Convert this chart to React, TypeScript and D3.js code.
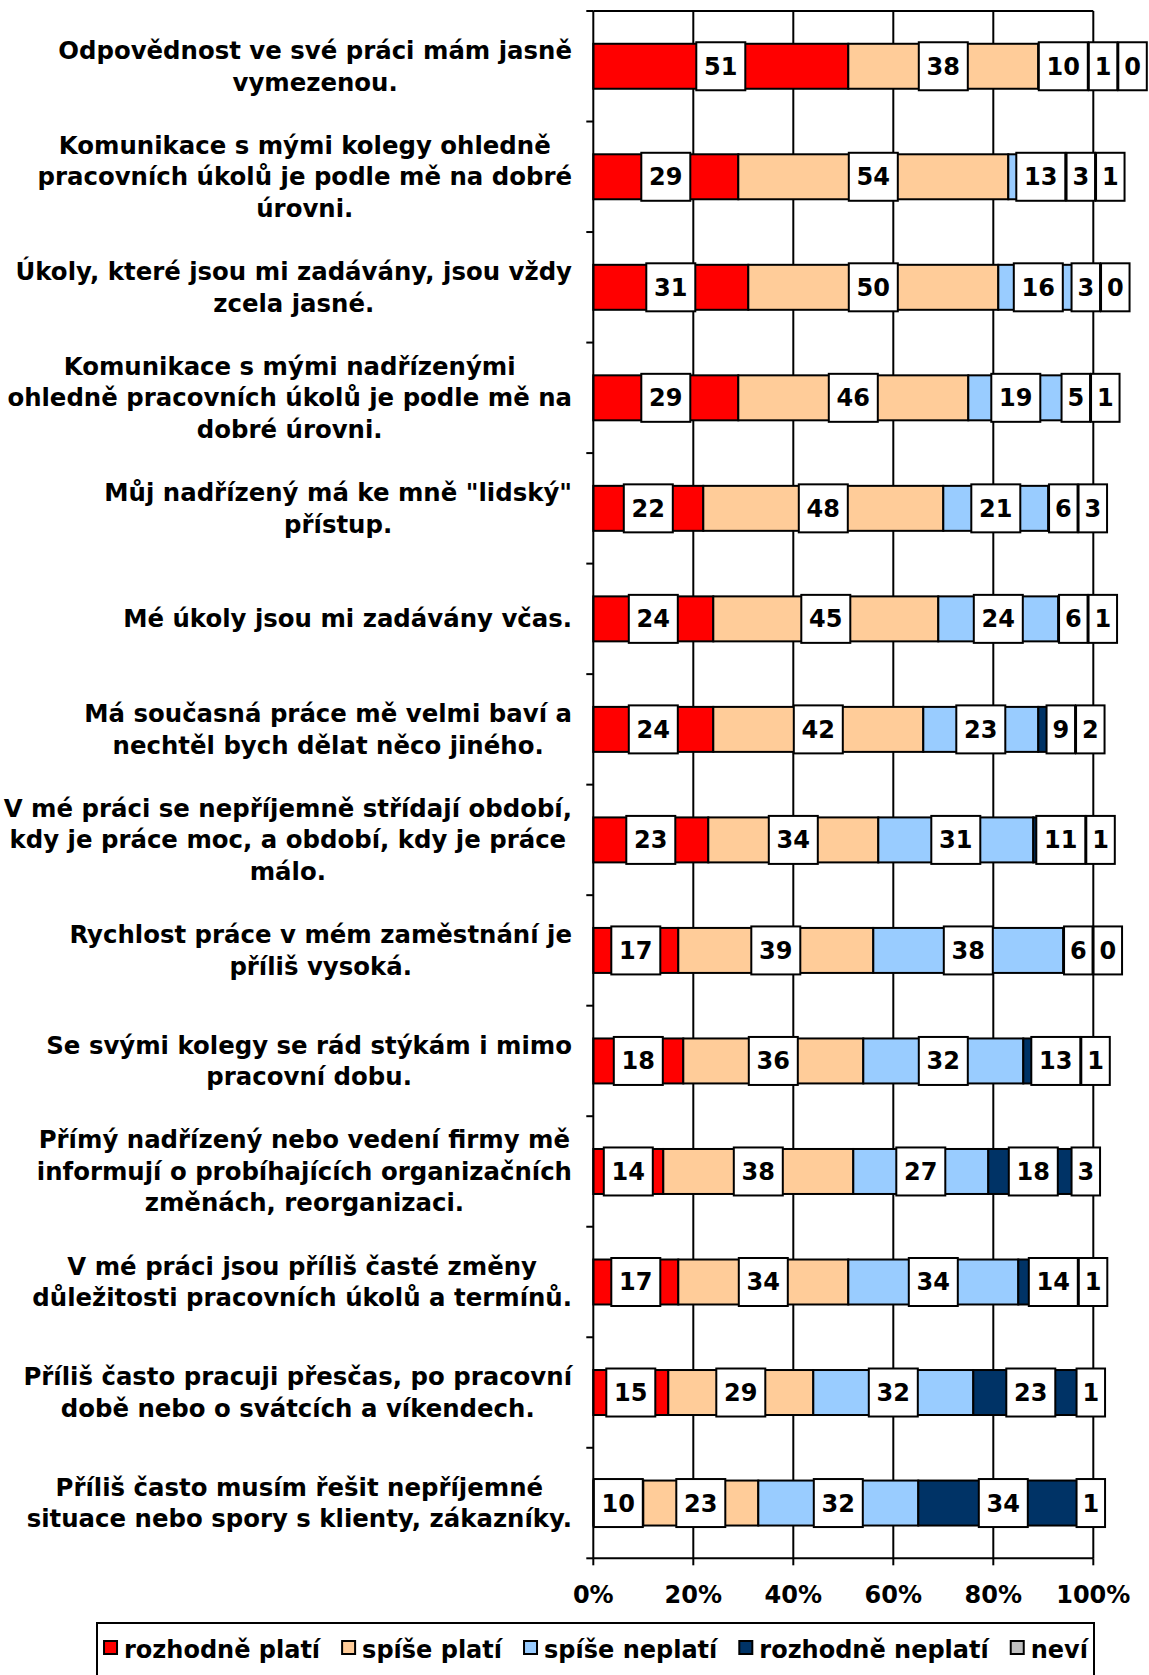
import React, { useEffect, useRef } from "react";
import * as d3 from "d3";

const categories = [
  "Odpovědnost ve své práci mám jasně\nvymezenou.",
  "Komunikace s mými kolegy ohledně\npracovních úkolů je podle mě na dobré\núrovni.",
  "Úkoly, které jsou mi zadávány, jsou vždy\nzcela jasné.",
  "Komunikace s mými nadřízenými\nohledně pracovních úkolů je podle mě na\ndobré úrovni.",
  "Můj nadřízený má ke mně \"lidský\"\npřístup.",
  "Mé úkoly jsou mi zadávány včas.",
  "Má současná práce mě velmi baví a\nnechtěl bych dělat něco jiného.",
  "V mé práci se nepříjemně střídají období,\nkdy je práce moc, a období, kdy je práce\nmálo.",
  "Rychlost práce v mém zaměstnání je\npříliš vysoká.",
  "Se svými kolegy se rád stýkám i mimo\npracovní dobu.",
  "Přímý nadřízený nebo vedení firmy mě\ninformují o probíhajících organizačních\nzměnách, reorganizaci.",
  "V mé práci jsou příliš časté změny\ndůležitosti pracovních úkolů a termínů.",
  "Příliš často pracuji přesčas, po pracovní\ndobě nebo o svátcích a víkendech.",
  "Příliš často musím řešit nepříjemné\nsituace nebo spory s klienty, zákazníky.",
];

const seriesNames = ["rozhodně platí", "spíše platí", "spíše neplatí", "rozhodně neplatí", "neví"];
const rozhodnePlati = [51, 29, 31, 29, 22, 24, 24, 23, 17, 18, 14, 17, 15, 10];
const spisePlati = [38, 54, 50, 46, 48, 45, 42, 34, 39, 36, 38, 34, 29, 23];
const spiseNeplati = [10, 13, 16, 19, 21, 24, 23, 31, 38, 32, 27, 34, 32, 32];
const rozhodneNeplati = [1, 3, 3, 5, 6, 6, 9, 11, 6, 13, 18, 14, 23, 34];
const nevi = [0, 1, 0, 1, 3, 1, 2, 1, 0, 1, 3, 1, 1, 1];
const seriesColors = ["#FF0000", "#FFCC99", "#99CCFF", "#003366", "#C0C0C0"];
const xTicks = [0, 20, 40, 60, 80, 100];

const W = 1149;
const H = 1675;
const PLOT = { left: 593.3, right: 1093.3, top: 11, bottom: 1558.3 };
const FONT = "'DejaVu Sans', Verdana, sans-serif";
const FS = 24;
const CAT_FS = 24.4;

export default function App() {
  const ref = useRef<SVGSVGElement>(null);

  useEffect(() => {
    const svg = d3.select(ref.current);
    svg.selectAll("*").remove();
    const seriesVals = [rozhodnePlati, spisePlati, spiseNeplati, rozhodneNeplati, nevi];
    const data = categories.map((c, i) => {
      const o: any = { cat: c };
      seriesNames.forEach((s, j) => (o[s] = seriesVals[j][i]));
      return o;
    });
    const stacked = d3.stack<any>().keys(seriesNames).offset(d3.stackOffsetExpand)(data);

    const x = d3.scaleLinear().domain([0, 1]).range([PLOT.left, PLOT.right]);
    const y = d3
      .scaleBand<string>()
      .domain(categories)
      .range([PLOT.top, PLOT.bottom])
      .paddingInner(0.593)
      .paddingOuter(0.2965);
    const step = y.step();

    const g = svg.append("g").attr("font-family", FONT).attr("font-weight", "bold");

    // gridlines
    g.selectAll("line.grid")
      .data(xTicks.slice(1))
      .join("line")
      .attr("x1", (d) => x(d / 100))
      .attr("x2", (d) => x(d / 100))
      .attr("y1", PLOT.top)
      .attr("y2", PLOT.bottom)
      .attr("stroke", "#000")
      .attr("stroke-width", 2);
    g.append("line")
      .attr("x1", PLOT.left)
      .attr("x2", PLOT.right)
      .attr("y1", PLOT.top)
      .attr("y2", PLOT.top)
      .attr("stroke", "#000")
      .attr("stroke-width", 2);

    // bars
    stacked.forEach((s, j) => {
      g.append("g")
        .selectAll("rect")
        .data(s)
        .join("rect")
        .attr("x", (d) => x(d[0]))
        .attr("width", (d) => Math.max(0, x(d[1]) - x(d[0])))
        .attr("y", (d) => y(d.data.cat)!)
        .attr("height", y.bandwidth())
        .attr("fill", seriesColors[j])
        .attr("stroke", "#000")
        .attr("stroke-width", 2);
    });

    // data labels with push-right overlap removal
    const lab = g.append("g");
    categories.forEach((c, i) => {
      const cy = y(c)! + y.bandwidth() / 2;
      let prevRight = -Infinity;
      stacked.forEach((s) => {
        const d = s[i];
        const v = seriesVals[s.index][i];
        const txt = String(v);
        const w = txt.length === 1 ? 28.5 : 49;
        const cx = (x(d[0]) + x(d[1])) / 2;
        const left = Math.max(cx - w / 2, prevRight + 1);
        prevRight = left + w;
        lab.append("rect")
          .attr("x", left)
          .attr("y", cy - 24)
          .attr("width", w)
          .attr("height", 48)
          .attr("fill", "#fff")
          .attr("stroke", "#000")
          .attr("stroke-width", 2);
        lab.append("text")
          .attr("x", left + w / 2)
          .attr("y", cy + 8.5)
          .attr("text-anchor", "middle")
          .attr("font-size", FS)
          .text(txt);
      });
    });

    // axes
    g.append("line")
      .attr("x1", PLOT.left)
      .attr("x2", PLOT.left)
      .attr("y1", PLOT.top)
      .attr("y2", PLOT.bottom)
      .attr("stroke", "#000")
      .attr("stroke-width", 2);
    g.append("line")
      .attr("x1", PLOT.left)
      .attr("x2", PLOT.right)
      .attr("y1", PLOT.bottom)
      .attr("y2", PLOT.bottom)
      .attr("stroke", "#000")
      .attr("stroke-width", 2);
    g.selectAll("line.ytick")
      .data(d3.range(categories.length + 1))
      .join("line")
      .attr("x1", PLOT.left - 7)
      .attr("x2", PLOT.left)
      .attr("y1", (i) => PLOT.top + i * step)
      .attr("y2", (i) => PLOT.top + i * step)
      .attr("stroke", "#000")
      .attr("stroke-width", 2);
    g.selectAll("line.xtick")
      .data(xTicks)
      .join("line")
      .attr("x1", (d) => x(d / 100))
      .attr("x2", (d) => x(d / 100))
      .attr("y1", PLOT.bottom)
      .attr("y2", PLOT.bottom + 7)
      .attr("stroke", "#000")
      .attr("stroke-width", 2);
    g.selectAll("text.xlab")
      .data(xTicks)
      .join("text")
      .attr("x", (d) => x(d / 100))
      .attr("y", 1603)
      .attr("text-anchor", "middle")
      .attr("font-size", FS)
      .text((d) => d + "%");

    // category labels
    const LH = 31.5;
    const RIGHT = 572;
    categories.forEach((c) => {
      const lines = c.split("\n");
      const cy = y(c)! + y.bandwidth() / 2;
      const tg = g.append("g");
      const texts = lines.map((l, k) =>
        tg.append("text")
          .attr("y", cy - ((lines.length - 1) / 2) * LH + k * LH + 8.5)
          .attr("text-anchor", "middle")
          .attr("font-size", CAT_FS)
          .text(l)
      );
      const wmax = d3.max(texts, (t) => (t.node() as SVGTextElement).getComputedTextLength()) || 0;
      texts.forEach((t) => t.attr("x", RIGHT - wmax / 2));
    });

    // legend
    const LG = { x: 97, y: 1623, w: 997, h: 100 };
    g.append("rect")
      .attr("x", LG.x)
      .attr("y", LG.y)
      .attr("width", LG.w)
      .attr("height", LG.h)
      .attr("fill", "#fff")
      .attr("stroke", "#000")
      .attr("stroke-width", 2);
    const lg = g.append("g");
    let cx = 0;
    const legY = 1658;
    const GAP = 21;
    seriesNames.forEach((s, j) => {
      lg.append("rect")
        .attr("x", cx + 1)
        .attr("y", legY - 17)
        .attr("width", 13)
        .attr("height", 13)
        .attr("fill", seriesColors[j])
        .attr("stroke", "#000")
        .attr("stroke-width", 2);
      const t = lg.append("text")
        .attr("x", cx + 21)
        .attr("y", legY)
        .attr("font-size", FS)
        .text(s);
      cx += 21 + (t.node() as SVGTextElement).getComputedTextLength() + GAP;
    });
    const total = cx - GAP;
    lg.attr("transform", `translate(${LG.x + LG.w / 2 - total / 2},0)`);
  }, []);

  return (
    <div style={{ position: "absolute", left: 0, top: 0 }}>
      <svg ref={ref} width={W} height={H} style={{ display: "block", background: "#fff" }} />
    </div>
  );
}
